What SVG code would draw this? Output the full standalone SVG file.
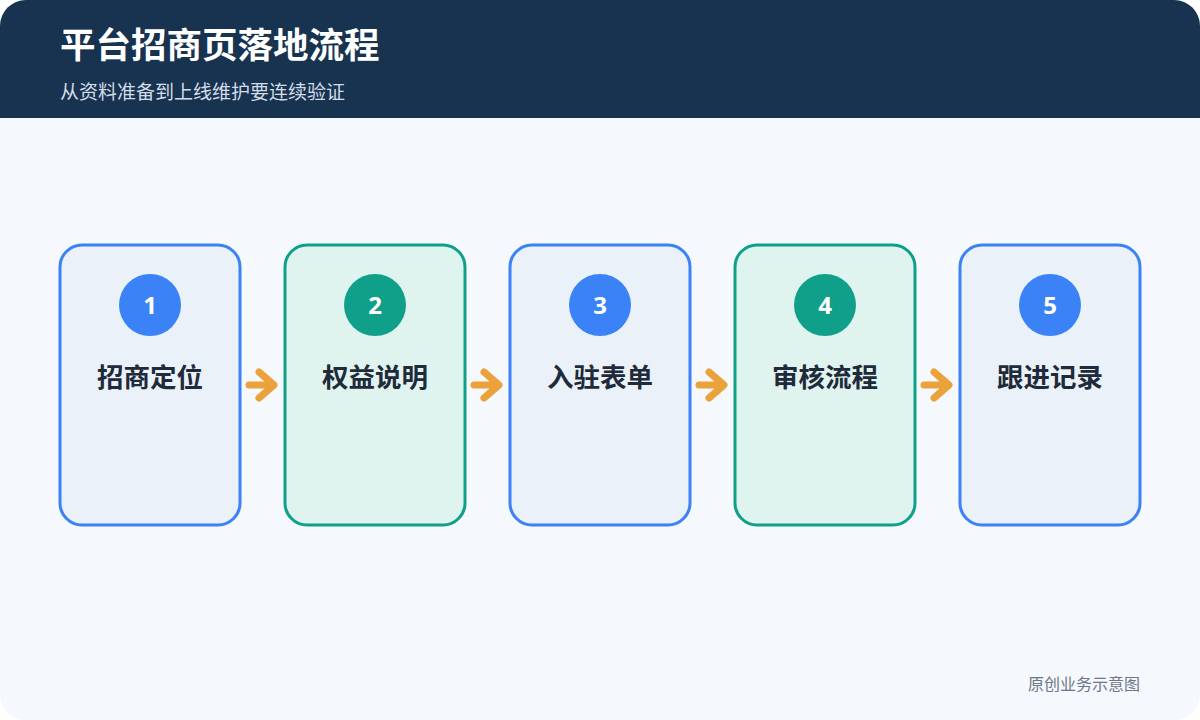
<svg xmlns="http://www.w3.org/2000/svg" width="1200" height="720" viewBox="0 0 1200 720">
<defs>
<style>
.card-b{fill:#eaf1f9;stroke:#3b82f6;stroke-width:3}
.card-g{fill:#dff3ef;stroke:#10a08a;stroke-width:3}
.num{font-family:"Noto Sans","Noto Sans CJK SC",sans-serif;font-weight:700;font-size:24px;fill:#ffffff;text-anchor:middle}
.lbl{font-family:"Noto Sans CJK SC",sans-serif;font-weight:700;font-size:26.5px;fill:#1f2a3a;text-anchor:middle}
.arr{fill:none;stroke:#eba23a;stroke-width:7;stroke-linecap:round;stroke-linejoin:round}
</style>
</defs>
<rect x="0" y="0" width="1200" height="720" rx="26" fill="#f5f8fc"/>
<path d="M26 0 H1174 A26 26 0 0 1 1200 26 V118 H0 V26 A26 26 0 0 1 26 0 Z" fill="#183350"/>
<text x="60" y="58" font-family="Noto Sans CJK SC, sans-serif" font-weight="700" font-size="35.5" fill="#ffffff">平台招商页落地流程</text>
<text x="60" y="99" font-family="Noto Sans CJK SC, sans-serif" font-size="19" fill="#d3dde9">从资料准备到上线维护要连续验证</text>
<g id="connectors">
<path class="arr" d="M249 385 H273 M259 372 L274 385 L259 398"/>
<path class="arr" d="M474 385 H498 M484 372 L499 385 L484 398"/>
<path class="arr" d="M699 385 H723 M709 372 L724 385 L709 398"/>
<path class="arr" d="M924 385 H948 M934 372 L949 385 L934 398"/>
</g>
<g id="node1">
<rect class="card-b" x="60" y="245" width="180" height="280" rx="22"/>
<circle cx="150" cy="305" r="31" fill="#3b82f6"/>
<text class="num" x="150" y="314">1</text>
<text class="lbl" x="150" y="387">招商定位</text>
</g>
<g id="node2">
<rect class="card-g" x="285" y="245" width="180" height="280" rx="22"/>
<circle cx="375" cy="305" r="31" fill="#10a08a"/>
<text class="num" x="375" y="314">2</text>
<text class="lbl" x="375" y="387">权益说明</text>
</g>
<g id="node3">
<rect class="card-b" x="510" y="245" width="180" height="280" rx="22"/>
<circle cx="600" cy="305" r="31" fill="#3b82f6"/>
<text class="num" x="600" y="314">3</text>
<text class="lbl" x="600" y="387">入驻表单</text>
</g>
<g id="node4">
<rect class="card-g" x="735" y="245" width="180" height="280" rx="22"/>
<circle cx="825" cy="305" r="31" fill="#10a08a"/>
<text class="num" x="825" y="314">4</text>
<text class="lbl" x="825" y="387">审核流程</text>
</g>
<g id="node5">
<rect class="card-b" x="960" y="245" width="180" height="280" rx="22"/>
<circle cx="1050" cy="305" r="31" fill="#3b82f6"/>
<text class="num" x="1050" y="314">5</text>
<text class="lbl" x="1050" y="387">跟进记录</text>
</g>
<text x="1140" y="690" text-anchor="end" font-family="Noto Sans CJK SC, sans-serif" font-size="16" fill="#6b7789">原创业务示意图</text>
</svg>
